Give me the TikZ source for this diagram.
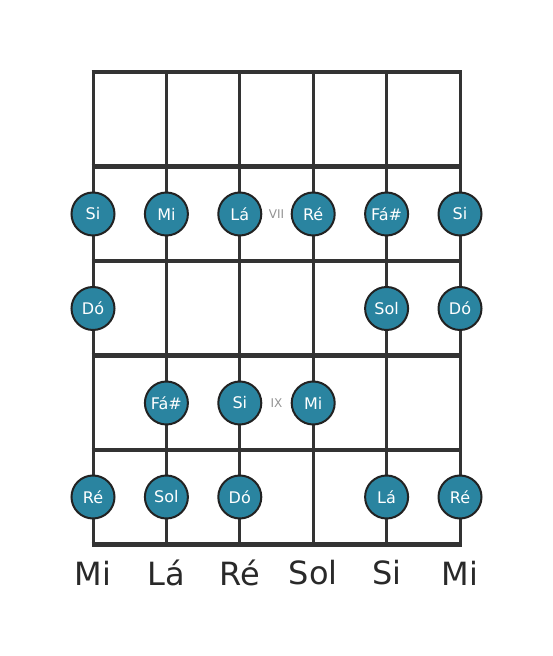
\documentclass[tikz,border=0pt]{standalone}
\usepackage{fontspec}
\setmainfont{DejaVu Sans}
\definecolor{notefill}{HTML}{2A84A0}
\definecolor{lineclr}{HTML}{333333}
\definecolor{edgeclr}{HTML}{222222}
\tikzset{
  notebox/.style={circle,fill=notefill,draw=edgeclr,line width=2pt,minimum size=43pt,inner sep=0pt,text=white,font=\fontsize{16}{16}\selectfont},
  stringline/.style={lineclr,line width=3pt},
  fretline/.style={lineclr,line width=4.5pt},
  fretnum/.style={text=gray!85,font=\fontsize{12}{12}\selectfont},
  stringname/.style={text=lineclr!80!black,font=\fontsize{32}{32}\selectfont}
}
\begin{document}
\begin{tikzpicture}[x=1pt,y=1pt]
\useasboundingbox (0,0) rectangle (553,656);
% string x positions
\foreach \i/\x in {1/93,2/166.4,3/239.8,4/313.2,5/386.6,6/460}{
  \coordinate (st\i) at (\x,584);
  \coordinate (sb\i) at (\x,111.5);
}
\foreach \i in {1,...,6}{
  \draw[stringline] (st\i) -- (sb\i);
}
\foreach \j/\y in {0/584,1/489.5,2/395,3/300.5,4/206,5/111.5}{
  \coordinate (fl\j) at (91.5,\y);
  \coordinate (fr\j) at (461.5,\y);
  \draw[fretline] (fl\j) -- (fr\j);
}
% notes
\def\ra{442}\def\rb{347.5}\def\rc{253}\def\rd{159}
\node[notebox] (n11) at (93,\ra) {Si};
\node[notebox] (n12) at (166.4,\ra) {Mi};
\node[notebox] (n13) at (239.8,\ra) {Lá};
\node[notebox] (n14) at (313.2,\ra) {Ré};
\node[notebox] (n15) at (386.6,\ra) {Fá\#};
\node[notebox] (n16) at (460,\ra) {Si};
\node[fretnum] (f7) at (276.5,\ra) {VII};
\node[notebox] (n21) at (93,\rb) {Dó};
\node[notebox] (n25) at (386.6,\rb) {Sol};
\node[notebox] (n26) at (460,\rb) {Dó};
\node[notebox] (n32) at (166.4,\rc) {Fá\#};
\node[notebox] (n33) at (239.8,\rc) {Si};
\node[notebox] (n34) at (313.2,\rc) {Mi};
\node[fretnum] (f9) at (276.5,\rc) {IX};
\node[notebox] (n41) at (93,\rd) {Ré};
\node[notebox] (n42) at (166.4,\rd) {Sol};
\node[notebox] (n43) at (239.8,\rd) {Dó};
\node[notebox] (n45) at (386.6,\rd) {Lá};
\node[notebox] (n46) at (460,\rd) {Ré};
% string names
\node[stringname] (s1) at (93,83) {Mi};
\node[stringname] (s2) at (166.4,83) {Lá};
\node[stringname] (s3) at (239.8,83) {Ré};
\node[stringname] (s4) at (313.2,83) {Sol};
\node[stringname] (s5) at (386.6,83) {Si};
\node[stringname] (s6) at (460,83) {Mi};
\end{tikzpicture}
\end{document}
